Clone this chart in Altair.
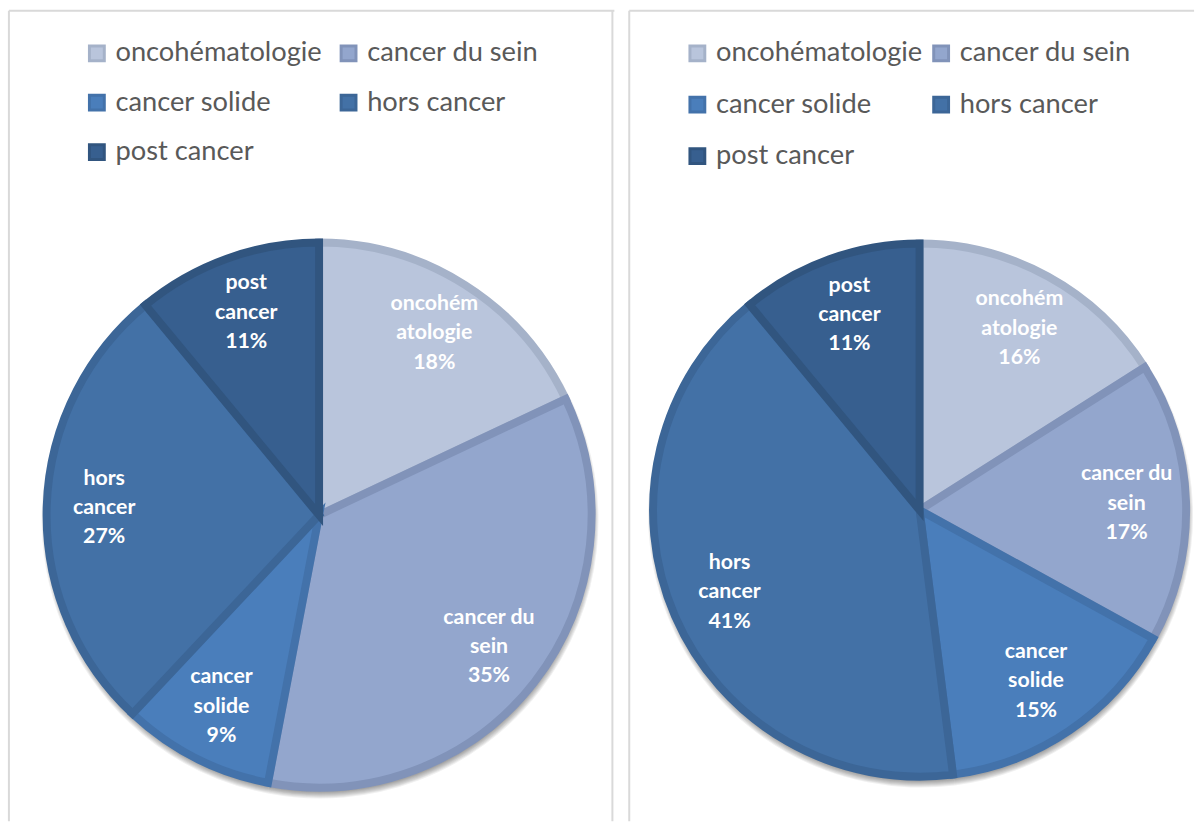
import altair as alt
import pandas as pd

# Categories in slice order (clockwise from 12 o'clock)
categories = ["oncohématologie", "cancer du sein", "cancer solide", "hors cancer", "post cancer"]
# Wrapped names as they appear inside the slices
label_names = ["oncohém\natologie", "cancer du\nsein", "cancer\nsolide", "hors\ncancer", "post\ncancer"]

left_pct = [18, 35, 9, 27, 11]
right_pct = [16, 17, 15, 41, 11]

fill_colors = ["#B9C5DC", "#93A6CD", "#4A7EBB", "#4371A6", "#375F8F"]
edge_colors = ["#A5B2C9", "#8193B9", "#4372AA", "#3C6697", "#31557F"]

# The legend fills its two columns top-down, so list entries column by column
legend_order = ["oncohématologie", "cancer solide", "post cancer", "cancer du sein", "hors cancer"]
fill_map = dict(zip(categories, fill_colors))
edge_map = dict(zip(categories, edge_colors))

FONT = "Lato"
FRAME = "#D9D9D9"
LINE_H = 29.5


def frame(values):
    return pd.DataFrame({
        "category": categories,
        "pct": values,
        "rank": list(range(len(categories))),
        "label": [f"{n}\n{v}%" for n, v in zip(label_names, values)],
    })


def panel(values, w, h, cx, cy, r, label_r, legend_x, legend_y, col_pad, row_pad, right_edge):
    base = alt.Chart(frame(values)).encode(
        theta=alt.Theta("pct:Q", stack=True),
        order=alt.Order("rank:O"),
    )
    legend = alt.Legend(
        title=None, orient="none", legendX=legend_x, legendY=legend_y,
        columns=2, columnPadding=col_pad, rowPadding=row_pad,
        symbolType="square", symbolSize=225, symbolStrokeWidth=3,
        labelFont=FONT, labelFontSize=27.5, labelColor="#595959",
        labelOffset=5, padding=0, labelLimit=400,
    )
    fill_scale = alt.Scale(domain=legend_order, range=[fill_map[c] for c in legend_order])
    edge_scale = alt.Scale(domain=legend_order, range=[edge_map[c] for c in legend_order])

    # soft drop shadow under the pie
    shadows = [
        base.mark_arc(radius=r - 4 + k, opacity=0.06, color="#000000").encode(
            x=alt.value(cx + 1), y=alt.value(cy + 5), detail="category:N"
        )
        for k in range(7)
    ]

    pie = base.mark_arc(radius=r - 4, strokeWidth=8).encode(
        x=alt.value(cx), y=alt.value(cy),
        color=alt.Color("category:N", scale=fill_scale, legend=legend),
        stroke=alt.Stroke("category:N", scale=edge_scale, legend=legend),
    )

    labels = base.mark_text(
        radius=label_r, font=FONT, fontWeight="bold", fontSize=21.5, color="white",
        lineBreak="\n", lineHeight=LINE_H, align="center", baseline="middle",
        dy=-LINE_H,
    ).encode(
        x=alt.value(cx), y=alt.value(cy), text="label:N", detail="category:N"
    )

    edges = [
        alt.Chart().mark_rule(color=FRAME, strokeWidth=2).encode(
            x=alt.value(0), y=alt.value(0), y2=alt.value(h)),
        alt.Chart().mark_rule(color=FRAME, strokeWidth=2).encode(
            x=alt.value(0), x2=alt.value(w + 2), y=alt.value(0)),
    ]
    if right_edge:
        edges.append(alt.Chart().mark_rule(color=FRAME, strokeWidth=2).encode(
            x=alt.value(w), y=alt.value(0), y2=alt.value(h)))

    return alt.layer(*shadows, pie, labels, *edges).properties(width=w, height=h)


left = panel(left_pct, 609, 818, 313, 509, 279, 217, 75, 29, 13, 21, True)
right = panel(right_pct, 568, 818, 293, 504, 273, 209, 55, 29, 5, 23, False)

chart = alt.hconcat(left, right, spacing=17, bounds="flush").resolve_scale(
    color="independent", stroke="independent", theta="independent"
).properties(
    padding={"left": 8, "top": 6, "right": 0, "bottom": 0}
).configure_view(stroke=None)

chart.save("out.html", embed_options={"renderer": "svg", "actions": False})
